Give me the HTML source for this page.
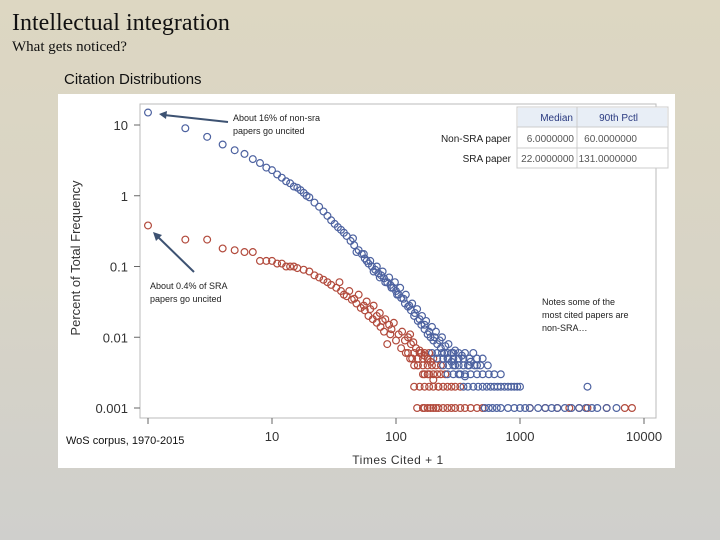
<!DOCTYPE html>
<html><head><meta charset="utf-8">
<style>
html,body{margin:0;padding:0}
body{width:720px;height:540px;overflow:hidden;background:linear-gradient(180deg,#ddd7c2 0%,#d8d4c6 50%,#cfcfcc 100%);position:relative;font-family:"Liberation Sans",sans-serif}
.t{position:absolute;white-space:nowrap}
</style></head><body>
<div class="t" style="left:12px;top:10px;font:24px 'Liberation Serif',serif;color:#111">Intellectual integration</div>
<div class="t" style="left:12px;top:39px;font:15px 'Liberation Serif',serif;color:#111">What gets noticed?</div>
<div class="t" style="left:64px;top:71px;font:15px 'Liberation Sans',sans-serif;color:#111">Citation Distributions</div>
<svg id="chart" width="720" height="540" style="position:absolute;left:0;top:0">
<rect x="58" y="94" width="617" height="374" fill="#fff"/>
<rect x="140" y="104" width="516" height="314" fill="none" stroke="#bbb"/>
<g id="ax"></g><g id="marks"></g>
<text x="0" y="0" transform="translate(80,258) rotate(-90)" text-anchor="middle" font-size="13" fill="#333">Percent of Total Frequency</text>
<text x="398" y="464" text-anchor="middle" font-size="12" fill="#333" letter-spacing="0.5">Times Cited + 1</text>
<g font-size="10">
<rect x="517" y="107" width="151" height="61" fill="#fff" stroke="#ccc"/>
<rect x="518" y="108" width="149" height="19" fill="#e8eef6"/>
<line x1="517" y1="127" x2="668" y2="127" stroke="#ccc"/><line x1="517" y1="148" x2="668" y2="148" stroke="#ccc"/>
<line x1="577" y1="107" x2="577" y2="168" stroke="#ccc"/>
<text x="573" y="121" text-anchor="end" fill="#2a3a80">Median</text>
<text x="638" y="121" text-anchor="end" fill="#2a3a80">90th Pctl</text>
<text x="574" y="142" text-anchor="end" fill="#555">6.0000000</text>
<text x="637" y="142" text-anchor="end" fill="#555">60.0000000</text>
<text x="574" y="162" text-anchor="end" fill="#555">22.0000000</text>
<text x="637" y="162" text-anchor="end" fill="#555">131.0000000</text>
<text x="511" y="142" text-anchor="end" fill="#222">Non-SRA paper</text>
<text x="511" y="162" text-anchor="end" fill="#222">SRA paper</text>
</g>
<g font-size="9" fill="#222">
<text x="233" y="121">About 16% of non-sra</text><text x="233" y="134">papers go uncited</text>
<line x1="228" y1="122" x2="164" y2="115" stroke="#3d5272" stroke-width="2"/>
<polygon points="159,114 167,111 166,119" fill="#3d5272"/>
</g>
<g font-size="9" fill="#222">
<text x="150" y="289">About 0.4% of SRA</text><text x="150" y="302">papers go uncited</text>
<line x1="194" y1="272" x2="157" y2="236" stroke="#3d5272" stroke-width="2"/>
<polygon points="153,232 162,235 156,241" fill="#3d5272"/>
</g>
<g font-size="9" fill="#222">
<text x="542" y="305">Notes some of the</text><text x="542" y="318">most cited papers are</text><text x="542" y="331">non-SRA…</text>
</g>
<text x="66" y="444" font-size="11" fill="#111">WoS corpus, 1970-2015</text>
</svg>
<script>
const yTicks=[10,1,0.1,0.01,0.001];
const yTickLabels=["10","1","0.1","0.01","0.001"];
const xTicks=[10,100,1000,10000];
const xTickLabels=["10","100","1000","10000"];
const blueX=[1,2,3,4,5,6,7,8,9,10,11,12,13,14,15,16,17,18,19,20,22,24,26,28,30,32,34,36,38,40,43,46,50,53,56,60,64,68,72,76,80,85,90,95,100,105,110,118,125,132,140,150,160,170,180,190,200,215,230,245,260,280,300,330,360];
const blueY=[15,9,6.8,5.3,4.4,3.9,3.3,2.9,2.5,2.3,2.0,1.8,1.6,1.5,1.35,1.3,1.2,1.1,1.0,0.95,0.8,0.7,0.6,0.52,0.45,0.4,0.36,0.33,0.3,0.27,0.23,0.2,0.17,0.15,0.13,0.11,0.1,0.09,0.08,0.075,0.068,0.06,0.055,0.05,0.045,0.04,0.036,0.03,0.027,0.024,0.02,0.017,0.015,0.013,0.011,0.01,0.009,0.008,0.007,0.006,0.005,0.0045,0.004,0.003,0.0028];
const blueCloudX=[45,48,55,58,62,66,70,74,78,82,88,92,98,102,108,115,120,128,135,142,148,155,162,170,175,185,195,205,210,225,235,250,265,280,300,320,340,380,400,450];
const blueCloudY=[0.25,0.16,0.15,0.12,0.12,0.085,0.1,0.07,0.085,0.06,0.07,0.05,0.06,0.04,0.05,0.035,0.04,0.028,0.03,0.022,0.025,0.018,0.02,0.015,0.017,0.012,0.014,0.01,0.012,0.009,0.01,0.0075,0.008,0.006,0.0065,0.005,0.0055,0.004,0.0045,0.004];
const redX=[1,2,3,4,5,6,7,8,9,10,11,12,13,14,15,16,18,20,22,24,26,28,30,33,36,40,44,48,52,56,60,65,70,75,80,85,90,100,110,120,130,140,150,165,180,200,220];
const redY=[0.38,0.24,0.24,0.18,0.17,0.16,0.16,0.12,0.12,0.12,0.11,0.11,0.1,0.1,0.1,0.095,0.09,0.085,0.075,0.07,0.065,0.06,0.055,0.05,0.045,0.038,0.034,0.03,0.026,0.024,0.02,0.018,0.016,0.014,0.012,0.008,0.011,0.009,0.007,0.006,0.005,0.004,0.004,0.003,0.003,0.0025,0.002];
const redCloudX=[35,38,42,46,50,55,58,62,66,70,74,78,82,88,92,96,105,112,118,125,132,138,145,155,160,170,180,190,130];
const redCloudY=[0.06,0.04,0.045,0.035,0.04,0.028,0.032,0.025,0.028,0.02,0.022,0.017,0.018,0.015,0.013,0.016,0.011,0.012,0.009,0.01,0.008,0.0085,0.007,0.0065,0.006,0.0055,0.005,0.0045,0.011];
// count-band rows (value, x positions)
const band1Red=[148,165,170,180,190,200,210,220,240,260,280,300,330,360,400,450,500,1200,1600,2000,2500,3000,3500,5000,7000,8000];
const band1Blue=[520,560,600,650,700,800,900,1000,1100,1200,1400,1600,1800,2000,2300,2600,3000,3400,3800,4200,5000,6000];
const band2Red=[140,155,170,185,200,220,240,260,280,300,330];
const band2Blue=[350,380,420,460,500,540,580,620,660,700,750,800,850,900,950,1000,3500];
const band3Red=[170,185,200,215,230,250];
const band3Blue=[260,290,320,360,400,450,500,560,620,700];
const band4Red=[150,165,180,195,210,230];
const band4Blue=[240,265,290,320,350,390,430,480,550];
const band5Red=[135,150,165,180,200];
const band5Blue=[215,240,265,290,320,350,390,450,500];
const band6Red=[125,140,155,170,185];
const band6Blue=[195,215,235,260,290,320,360,420];
const ns="http://www.w3.org/2000/svg";
const X=v=>148+124*Math.log10(v);
const Y=v=>125-70.75*(Math.log10(v)-1);
const ax=document.getElementById('ax'),mk=document.getElementById('marks');
function mkEl(t,a,p){const e=document.createElementNS(ns,t);for(const k in a)e.setAttribute(k,a[k]);p.appendChild(e);return e;}
yTicks.forEach((v,i)=>{
 const l=mkEl('line',{x1:134,x2:140,y1:Y(v),y2:Y(v),stroke:'#666'},ax);
 
 
 const t=mkEl('text',{x:128,y:Y(v)+5,'text-anchor':'end','font-size':13,fill:'#333'},ax);t.textContent=yTickLabels[i];
 
 
});
xTicks.forEach((v,i)=>{
 const l=mkEl('line',{x1:X(v),x2:X(v),y1:418,y2:424,stroke:'#666'},ax);
 
 
 const t=mkEl('text',{x:X(v),y:441,'text-anchor':'middle','font-size':13,fill:'#333'},ax);t.textContent=xTickLabels[i];
 
 
});
const xt1=mkEl('line',{x1:148,x2:148,y1:418,y2:424,stroke:'#666'},ax);


function pt(x,y,c,name){const e=mkEl('circle',{cx:X(x),cy:Y(y),r:3.4,fill:'none',stroke:c,'stroke-width':1.2},mk);
 
 }
const B='#4d62a0',R='#b24a3c';
const bandsRed=[[0.001,band1Red],[0.002,band2Red],[0.003,band3Red],[0.004,band4Red],[0.005,band5Red],[0.006,band6Red]];
const bandsBlue=[[0.001,band1Blue],[0.002,band2Blue],[0.003,band3Blue],[0.004,band4Blue],[0.005,band5Blue],[0.006,band6Blue]];
bandsRed.forEach(b=>b[1].forEach(x=>pt(x,b[0],R,'sra-point')));
bandsBlue.forEach(b=>b[1].forEach(x=>pt(x,b[0],B,'nonsra-point')));
redCloudX.forEach((x,i)=>pt(x,redCloudY[i],R,'sra-point'));
redX.forEach((x,i)=>pt(x,redY[i],R,'sra-point'));
blueCloudX.forEach((x,i)=>pt(x,blueCloudY[i],B,'nonsra-point'));
blueX.forEach((x,i)=>pt(x,blueY[i],B,'nonsra-point'));
</script>
</body></html>
